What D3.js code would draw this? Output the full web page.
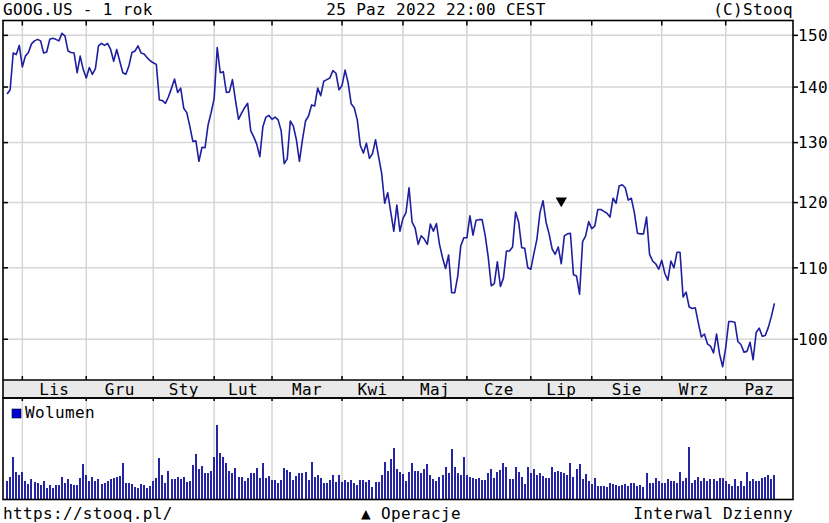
<!DOCTYPE html>
<html><head><meta charset="utf-8">
<script src="https://cdn.jsdelivr.net/npm/d3@7/dist/d3.min.js"></script>
<style>
body{margin:0;background:#fff}
svg{display:block}
text{font-family:"DejaVu Sans Mono",monospace;font-size:16px;letter-spacing:0.35px;fill:#000}
</style>
</head><body>
<svg id="chart" width="829" height="523"></svg>
<script>
// ---------------- data ----------------
const titleLeft = "GOOG.US - 1 rok";
const titleCenter = "25 Paz 2022 22:00 CEST";
const titleRight = "(C)Stooq";
const footLeft = "https://stooq.pl/";
const footCenter = "▲ Operacje";
const footRight = "Interwal Dzienny";
const volumeLabel = "Wolumen";

const monthLabels = ["Lis","Gru","Sty","Lut","Mar","Kwi","Maj","Cze","Lip","Sie","Wrz","Paz"];
// index of first trading session of each month
const monthStartIdx = [5,26,48,68,87,110,130,151,172,192,215,236];
const priceTicks = [100,110,120,130,140,150];

// daily close, 25 Oct 2021 .. 25 Oct 2022
const closeOct21 = [138.7,139.5,146.5,146.2,148.0];
const closeNov = [143.8,145.9,146.6,148.3,148.9,149.2,148.9,146.5,146.7,149.2,149.4,149.2,148.9,150.4,149.9,146.9,146.6,146.5,142.7,145.9,143.3];
const closeDec = [141.7,143.7,142.4,143.5,147.9,148.4,148.0,148.4,147.2,144.9,147.2,144.9,142.7,142.4,144.0,146.6,146.9,147.9,146.5,146.3,145.6,145.0];
const closeJan = [144.6,144.3,137.6,137.5,137.0,138.2,139.8,141.5,139.0,139.8,136.1,135.3,132.9,130.2,130.3,126.8,129.2,129.1,133.1,135.3];
const closeFeb = [137.9,147.6,142.7,142.9,139.0,139.1,141.4,137.6,134.1,135.2,136.2,137.0,132.1,131.0,129.7,127.6,132.8,134.5,134.8];
const closeMar = [134.1,134.5,134.0,132.1,126.4,127.2,133.8,132.9,130.5,126.8,130.5,133.8,134.7,136.7,136.5,139.8,138.4,141.1,141.4,141.7,143.1,142.6,139.5];
const closeApr = [140.3,143.2,140.8,136.9,136.2,134.0,129.5,128.2,129.9,127.3,128.1,130.5,127.6,124.8,119.9,121.6,118.5,115.5,119.6,115.5];
const closeMay = [117.5,118.4,122.4,116.9,116.0,113.5,114.8,114.3,113.5,116.6,115.5,116.7,113.5,111.5,109.9,111.9,106.4,106.4,108.8,113.3,114.5];
const closeJun = [114.5,117.9,114.9,117.2,117.3,117.3,114.9,111.6,107.4,107.7,110.9,107.3,108.5,112.5,112.5,113.1,118.5,116.9,113.0,112.9,110.0];
const closeJul = [109.8,112.1,114.3,118.4,120.3,116.9,115.1,112.8,112.0,113.1,110.6,114.8,115.1,115.2,109.0,108.8,106.2,113.9,114.8,117.0];
const closeAug = [115.9,116.3,118.9,118.9,118.6,118.3,117.7,120.7,119.9,122.7,122.9,122.4,120.4,120.7,118.4,115.2,115.1,115.1,117.7,112.0,111.0,110.6,109.8];
const closeSep = [111.1,109.2,108.2,111.0,110.0,112.3,112.3,105.8,106.5,104.4,104.2,104.3,102.2,100.3,100.7,99.4,99.1,98.2,100.7,98.0,96.4];
const closeOct22 = [98.9,102.4,102.4,102.3,99.7,99.3,98.3,98.4,99.6,97.3,100.9,101.5,100.4,100.5,101.6,103.1,104.9];

// daily volume (relative units)
const volume = [
18,22,42,27,24,27,18,15,20,17,16,14,18,11,14,11,14,14,22,16,20,15,14,14,21,35,24,18,22,18,
20,15,16,18,20,21,22,23,36,16,16,15,12,11,15,14,11,13,18,21,41,24,16,28,20,20,22,20,22,17,
18,34,45,30,33,26,26,28,42,74,46,42,36,28,26,31,22,22,18,21,26,26,31,21,36,21,23,19,19,16,
19,31,29,27,19,23,26,26,27,19,37,22,24,21,16,16,19,24,17,24,17,19,17,19,16,14,19,19,17,19,
12,17,17,24,37,28,40,51,30,27,25,18,27,36,28,28,26,30,35,24,20,18,22,24,32,26,50,32,26,24,
42,24,22,21,20,21,19,19,26,30,21,27,29,36,32,20,20,32,27,22,15,32,26,30,24,26,23,21,21,32,
27,28,27,26,24,36,22,30,35,20,25,18,15,21,13,13,13,12,16,15,14,13,14,15,13,16,16,13,14,12,
26,16,16,21,18,16,16,20,18,18,16,27,18,21,52,16,19,22,18,21,18,20,20,18,21,21,18,15,13,20,
13,18,13,27,18,20,18,18,21,22,24,20,24];

// trade operation marker (session index, price level)
const operations = [{idx:182, level:120.3}];

const close = [].concat(closeOct21,closeNov,closeDec,closeJan,closeFeb,closeMar,closeApr,
  closeMay,closeJun,closeJul,closeAug,closeSep,closeOct22);

// ---------------- layout ----------------
const W = 829, H = 523;
const left = 3, right = 793;
const pTop = 20.5, pBot = 380;
const bandBot = 398, vBot = 499.5;

const svg = d3.select("#chart");
svg.append("rect").attr("width",W).attr("height",H).attr("fill","#fff");

const x = d3.scaleLinear().domain([-1.35, 258.1]).range([left, right]);
const y = d3.scaleLog().domain([94.71, 153.0]).range([pBot, pTop]);
const yv = d3.scaleLinear().domain([0, 101]).range([vBot - 0.5, bandBot]);

const gridCol = "#d6d6d6";

// month band
svg.append("rect").attr("x",left).attr("y",pBot).attr("width",right-left).attr("height",bandBot-pBot)
  .attr("fill","#e9e9e9");

// gridlines price
const g = svg.append("g");
g.selectAll("line.hg").data(priceTicks).join("line")
  .attr("x1",left).attr("x2",right).attr("y1",d=>y(d)).attr("y2",d=>y(d))
  .attr("stroke",gridCol).attr("stroke-width",1.5);
g.selectAll("line.vg").data(monthStartIdx).join("line")
  .attr("x1",d=>x(d)).attr("x2",d=>x(d)).attr("y1",pTop).attr("y2",pBot)
  .attr("stroke",gridCol).attr("stroke-width",1.5);
// gridlines volume
g.selectAll("line.vvg").data(monthStartIdx).join("line")
  .attr("x1",d=>x(d)).attr("x2",d=>x(d)).attr("y1",bandBot).attr("y2",vBot)
  .attr("stroke",gridCol).attr("stroke-width",1.5);

// volume bars
svg.append("g").attr("shape-rendering","crispEdges").selectAll("rect").data(volume).join("rect")
  .attr("x",(d,i)=>Math.round(x(i)-1)).attr("width",2)
  .attr("y",d=>yv(d)).attr("height",d=>yv(0)-yv(d))
  .attr("fill","#2424a4");

// price line
svg.append("path").datum(close)
  .attr("d", d3.line().x((d,i)=>x(i)).y(d=>y(d)))
  .attr("fill","none").attr("stroke","#1e1ea0").attr("stroke-width",1.6)
  .attr("stroke-linejoin","round");

// operations marker
svg.append("g").selectAll("path").data(operations).join("path")
  .attr("d", d3.symbol().type(d3.symbolTriangle).size(55))
  .attr("transform", d=>`translate(${x(d.idx)},${y(d.level)}) rotate(180)`)
  .attr("fill","#000");

// borders
const bc = "#000", bw = 1.6;
svg.append("rect").attr("x",left).attr("y",pTop).attr("width",right-left).attr("height",bandBot-pTop)
  .attr("fill","none").attr("stroke",bc).attr("stroke-width",bw);
svg.append("line").attr("x1",left).attr("x2",right).attr("y1",pBot).attr("y2",pBot)
  .attr("stroke",bc).attr("stroke-width",bw);
svg.append("rect").attr("x",left).attr("y",bandBot).attr("width",right-left).attr("height",vBot-bandBot)
  .attr("fill","none").attr("stroke",bc).attr("stroke-width",bw);

// ticks
const tk = svg.append("g").attr("stroke",bc).attr("stroke-width",1.5);
tk.selectAll("line.t1").data(monthStartIdx).join("line")
  .attr("x1",d=>x(d)).attr("x2",d=>x(d)).attr("y1",pTop).attr("y2",pTop+5);
tk.selectAll("line.t2").data(monthStartIdx).join("line")
  .attr("x1",d=>x(d)).attr("x2",d=>x(d)).attr("y1",pBot-4).attr("y2",pBot);
tk.selectAll("line.t3").data(monthStartIdx).join("line")
  .attr("x1",d=>x(d)).attr("x2",d=>x(d)).attr("y1",bandBot).attr("y2",bandBot+3);
tk.selectAll("line.t4").data(priceTicks).join("line")
  .attr("x1",left).attr("x2",left+5).attr("y1",d=>y(d)).attr("y2",d=>y(d));
tk.selectAll("line.t5").data(priceTicks).join("line")
  .attr("x1",right).attr("x2",right+5).attr("y1",d=>y(d)).attr("y2",d=>y(d));

// y labels
svg.append("g").selectAll("text").data(priceTicks).join("text")
  .attr("x",right+5).attr("y",d=>y(d)).attr("dy","0.36em").text(d=>d);

// month labels
const bounds = monthStartIdx.concat([x.invert(right)]);
svg.append("g").selectAll("text").data(monthLabels).join("text")
  .attr("x",(d,i)=>(x(bounds[i])+x(bounds[i+1]))/2).attr("y",(pBot+bandBot)/2).attr("dy","0.36em")
  .attr("text-anchor","middle").text(d=>d);

// legend
svg.append("rect").attr("x",12).attr("y",409).attr("width",9).attr("height",9)
  .attr("fill","#0000cc").attr("stroke","#000033").attr("stroke-width",0.6);
svg.append("text").attr("x",25).attr("y",418).text(volumeLabel);

// header & footer
svg.append("text").attr("x",3).attr("y",15).text(titleLeft);
svg.append("text").attr("x",436).attr("y",15).attr("text-anchor","middle").text(titleCenter);
svg.append("text").attr("x",793).attr("y",15).attr("text-anchor","end").text(titleRight);
svg.append("text").attr("x",3).attr("y",519).text(footLeft);
svg.append("text").attr("x",411).attr("y",519).attr("text-anchor","middle").text(footCenter);
svg.append("text").attr("x",793).attr("y",519).attr("text-anchor","end").text(footRight);
</script>
</body></html>
